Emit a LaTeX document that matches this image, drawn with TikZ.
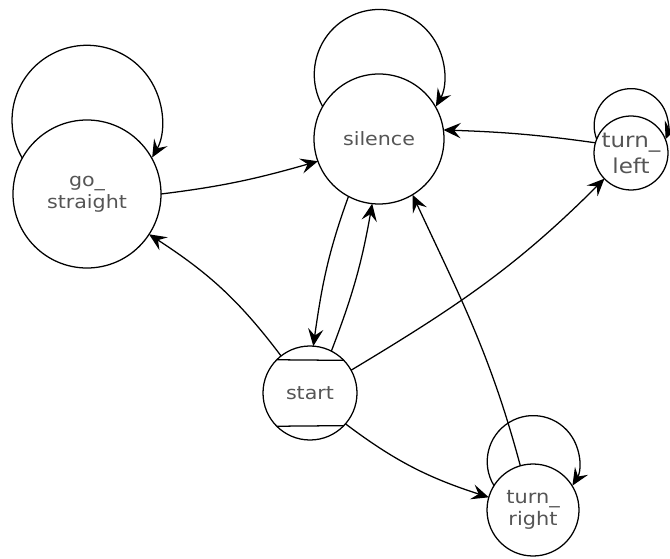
\documentclass[tikz,border=0pt]{standalone}
\usepackage{fontspec}
\setmainfont[FakeStretch=1.12]{DejaVu Sans}
\usetikzlibrary{arrows.meta}
\definecolor{labelgray}{HTML}{555555}
\tikzset{
  state/.style={circle, draw=black, line width=0.95pt, inner sep=0pt, outer sep=0pt,
    text=labelgray, align=center, font=\fontsize{13.8}{16.5}\selectfont},
  trans/.style={draw=black, line width=0.95pt,
    -{Stealth[length=13pt, width=11.5pt, inset=5pt]}},
}
\begin{document}
\begin{tikzpicture}[x=0.75pt, y=0.75pt]
  \useasboundingbox (0,0) rectangle (670,-559);

  % states
  \node[state, minimum size=111pt] (gs) at (87,-194) {go\_\\straight};
  \node[state, minimum size=97.5pt] (si) at (379,-139) {silence};
  \node[state, minimum size=55.5pt, font=\fontsize{15.4}{19.5}\selectfont] (tl) at (631,-153) {turn\_\\left};
  \node[state, minimum size=70.5pt] (st) at (310,-393) {start};
  \node[state, minimum size=69pt, font=\fontsize{14}{16}\selectfont] (tr) at (533,-510) {turn\_\\right};

  % bars marking the initial state
  \draw[line width=0.95pt] (st.135.4) -- (st.44.6);
  \draw[line width=0.95pt] (st.-135.4) -- (st.-44.6);

  % self loops
  \draw[trans] (gs.151) arc[start angle=210.3, end angle=-29.7, radius=56.25pt];
  \draw[trans] (si.150.5) arc[start angle=209.5, end angle=-29.5, radius=48.75pt];
  \draw[trans] (tl.158.6) arc[start angle=201.4, end angle=-21.4, radius=27.75pt];
  \draw[trans] (tr.148.5) arc[start angle=211.5, end angle=-31.5, radius=34.5pt];

  % transitions
  \draw[trans] (gs.0) to[out=7, in=196] (si.200);
  \draw[trans] (st.128) to[out=127, in=-33] (gs.-33);
  \draw[trans] (si.242) to[out=250, in=82] (st.86);
  \draw[trans] (st.63) to[out=69, in=-100] (si.264);
  \draw[trans] (tl.164) to[out=172, in=-2] (si.8);
  \draw[trans] (st.29) to[out=31, in=225] (tl.224);
  \draw[trans] (tr.106) to[out=105, in=-65] (si.-59);
  \draw[trans] (st.-41) to[out=-37, in=162] (tr.164);
\end{tikzpicture}
\end{document}
